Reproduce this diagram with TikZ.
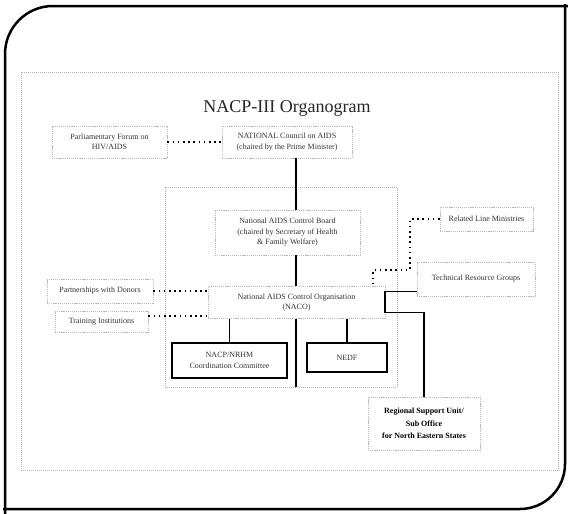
\documentclass[tikz,border=0pt]{standalone}
\usepackage{fontspec}
\setmainfont{Liberation Serif}
\begin{document}
\begin{tikzpicture}[x=1pt,y=-1pt,
  box/.style={draw=gray!55, dash pattern=on 1.2pt off 0.9pt, line width=0.7pt, align=center, inner sep=1pt, font=\fontsize{8}{10.5}\selectfont, text=black!80},
  solidbox/.style={draw=black, line width=1.3pt, align=center, inner sep=1pt, font=\fontsize{8}{10.5}\selectfont, text=black!80},
  boldbox/.style={box, font=\fontsize{8}{12.5}\selectfont\bfseries, text=black},
  conn/.style={line width=1.8pt},
  dotconn/.style={line width=1.8pt, dash pattern=on 1.6pt off 3.6pt},
  frameline/.style={draw=gray!60, dash pattern=on 1pt off 1pt, line width=0.6pt}
]
\useasboundingbox (0,0) rectangle (568,514);
% outer frame
\draw[line width=2.5pt, rounded corners=48pt] (5,516) -- (5,6) -- (570,6);
\draw[line width=2.5pt, rounded corners=45pt] (3,509) -- (565,509) -- (565,4);
% inner slide frame
\draw[frameline] (21,72) rectangle (558,470);
% title
\node[font=\fontsize{18}{20}\selectfont, text=black!85] (title) at (287,108) {NACP-III Organogram};
% group
\node[frameline, minimum width=232pt, minimum height=200pt, inner sep=0pt] (grp) at (281,287) {};
% nodes
\node[box, minimum width=115pt, minimum height=32pt] (parl) at (109.5,142) {Parliamentary Forum on\\HIV/AIDS};
\node[box, minimum width=130pt, minimum height=32pt] (nat) at (287,142) {NATIONAL Council on AIDS\\(chaired by the Prime Minister)};
\node[box, minimum width=145pt, minimum height=45pt] (board) at (287.5,232.5) {National AIDS Control Board\\(chaired by Secretary of Health\\\& Family Welfare)};
\node[box, minimum width=177pt, minimum height=32pt] (naco) at (296.5,302.5) {National AIDS Control Organisation\\(NACO)};
\node[solidbox, minimum width=115pt, minimum height=35pt] (nacp) at (229.5,360.5) {NACP/NRHM\\Coordination Committee};
\node[solidbox, minimum width=80pt, minimum height=29pt] (nedf) at (347,357.5) {NEDF};
\node[box, minimum width=106pt, minimum height=24pt] (partn) at (100,291) {Partnerships with Donors};
\node[box, minimum width=93pt, minimum height=21pt] (train) at (101.5,322) {Training Institutions};
\node[box, minimum width=93pt, minimum height=24pt] (lmin) at (486.5,219) {Related Line Ministries};
\node[box, minimum width=118pt, minimum height=34pt] (trg) at (476,279) {Technical Resource Groups};
\node[boldbox, minimum width=112pt, minimum height=53pt] (rsu) at (424,423.5) {Regional Support Unit/\\Sub Office\\for North Eastern States};
% connectors
\coordinate (spine) at (296,0);
\draw[dotconn] (parl.east) -- (nat.west);
\draw[conn] (nat.south -| spine) -- (board.north -| spine);
\draw[conn] (board.south -| spine) -- (naco.north -| spine);
\draw[conn] (naco.south -| nacp.north) -- (nacp.north);
\draw[conn] (naco.south -| nedf.north) -- (nedf.north);
\draw[conn] (naco.south -| spine) -- (grp.south -| spine);
\draw[dotconn] (partn.east) -- (partn.east -| naco.west);
\draw[dotconn] ([yshift=6pt]train.east) -- ([yshift=6pt]train.east -| naco.west);
\coordinate (lmbend) at (410,270);
\coordinate (lmend) at ([xshift=-12pt]naco.north east);
\draw[dotconn] (lmin.west) -| (lmbend) -| (lmend);
\coordinate (tj) at ([yshift=11pt]naco.east);
\coordinate (rj) at ([yshift=-10pt]naco.east);
\draw[conn] (tj -| trg.west) -- (tj) -- (rj) -| (rsu.north);
\end{tikzpicture}
\end{document}
